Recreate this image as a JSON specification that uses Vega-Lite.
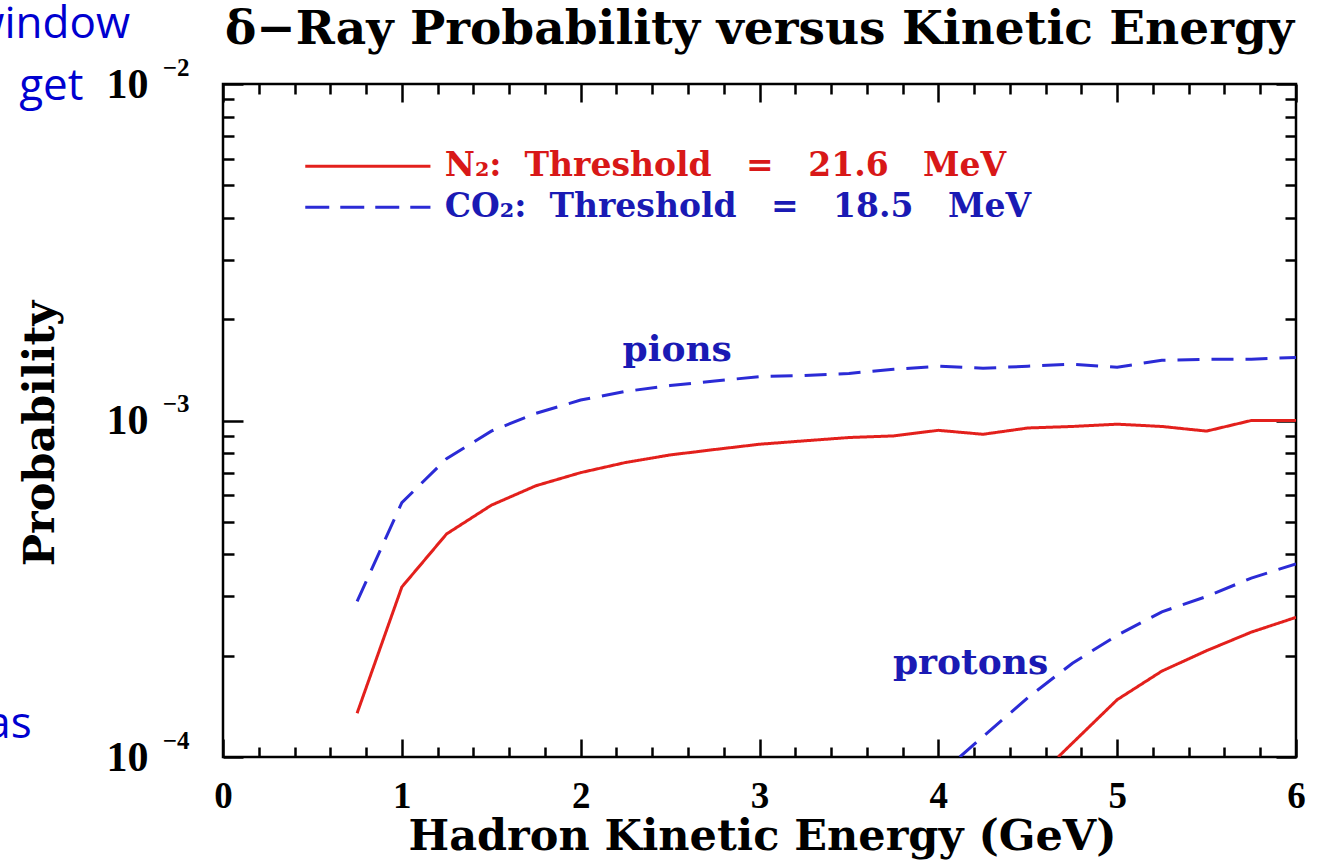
{
  "$schema": "https://vega.github.io/schema/vega-lite/v6.json",
  "width": 1073,
  "height": 673,
  "autosize": {"type": "none"},
  "padding": {"left": 223, "top": 84, "right": 23, "bottom": 108},
  "background": "white",
  "config": {
    "view": {"stroke": "black", "strokeWidth": 2.5},
    "axis": {"grid": false, "domain": false, "labelColor": "black", "titleColor": "black", "tickColor": "black", "tickWidth": 2.5}
  },
  "title": {
    "text": "δ−Ray Probability versus Kinetic Energy",
    "font": "DejaVu Serif",
    "fontSize": 47,
    "fontWeight": "bold",
    "anchor": "middle",
    "baseline": "alphabetic",
    "offset": 0,
    "dy": 88,
    "color": "black"
  },
  "datasets": {
    "curves": [
      {"curve": "N2 pions", "gas": "N2", "energy": 0.75, "prob": 0.000135},
      {"curve": "N2 pions", "gas": "N2", "energy": 1.0, "prob": 0.00032},
      {"curve": "N2 pions", "gas": "N2", "energy": 1.25, "prob": 0.00046},
      {"curve": "N2 pions", "gas": "N2", "energy": 1.5, "prob": 0.00056},
      {"curve": "N2 pions", "gas": "N2", "energy": 1.75, "prob": 0.00064},
      {"curve": "N2 pions", "gas": "N2", "energy": 2.0, "prob": 0.0007},
      {"curve": "N2 pions", "gas": "N2", "energy": 2.25, "prob": 0.00075},
      {"curve": "N2 pions", "gas": "N2", "energy": 2.5, "prob": 0.00079},
      {"curve": "N2 pions", "gas": "N2", "energy": 2.75, "prob": 0.00082},
      {"curve": "N2 pions", "gas": "N2", "energy": 3.0, "prob": 0.00085},
      {"curve": "N2 pions", "gas": "N2", "energy": 3.25, "prob": 0.00087},
      {"curve": "N2 pions", "gas": "N2", "energy": 3.5, "prob": 0.00089},
      {"curve": "N2 pions", "gas": "N2", "energy": 3.75, "prob": 0.0009},
      {"curve": "N2 pions", "gas": "N2", "energy": 4.0, "prob": 0.000935},
      {"curve": "N2 pions", "gas": "N2", "energy": 4.25, "prob": 0.00091},
      {"curve": "N2 pions", "gas": "N2", "energy": 4.5, "prob": 0.00095},
      {"curve": "N2 pions", "gas": "N2", "energy": 4.75, "prob": 0.00096},
      {"curve": "N2 pions", "gas": "N2", "energy": 5.0, "prob": 0.000975},
      {"curve": "N2 pions", "gas": "N2", "energy": 5.25, "prob": 0.00096},
      {"curve": "N2 pions", "gas": "N2", "energy": 5.5, "prob": 0.00093},
      {"curve": "N2 pions", "gas": "N2", "energy": 5.75, "prob": 0.001},
      {"curve": "N2 pions", "gas": "N2", "energy": 6.0, "prob": 0.001},
      {"curve": "CO2 pions", "gas": "CO2", "energy": 0.75, "prob": 0.00029},
      {"curve": "CO2 pions", "gas": "CO2", "energy": 1.0, "prob": 0.00057},
      {"curve": "CO2 pions", "gas": "CO2", "energy": 1.25, "prob": 0.00077},
      {"curve": "CO2 pions", "gas": "CO2", "energy": 1.5, "prob": 0.00093},
      {"curve": "CO2 pions", "gas": "CO2", "energy": 1.75, "prob": 0.00105},
      {"curve": "CO2 pions", "gas": "CO2", "energy": 2.0, "prob": 0.00115},
      {"curve": "CO2 pions", "gas": "CO2", "energy": 2.25, "prob": 0.00122},
      {"curve": "CO2 pions", "gas": "CO2", "energy": 2.5, "prob": 0.00127},
      {"curve": "CO2 pions", "gas": "CO2", "energy": 2.75, "prob": 0.00131},
      {"curve": "CO2 pions", "gas": "CO2", "energy": 3.0, "prob": 0.00135},
      {"curve": "CO2 pions", "gas": "CO2", "energy": 3.25, "prob": 0.00136},
      {"curve": "CO2 pions", "gas": "CO2", "energy": 3.5, "prob": 0.00138},
      {"curve": "CO2 pions", "gas": "CO2", "energy": 3.75, "prob": 0.00142},
      {"curve": "CO2 pions", "gas": "CO2", "energy": 4.0, "prob": 0.00145},
      {"curve": "CO2 pions", "gas": "CO2", "energy": 4.25, "prob": 0.00143},
      {"curve": "CO2 pions", "gas": "CO2", "energy": 4.5, "prob": 0.00145},
      {"curve": "CO2 pions", "gas": "CO2", "energy": 4.75, "prob": 0.00147},
      {"curve": "CO2 pions", "gas": "CO2", "energy": 5.0, "prob": 0.00144},
      {"curve": "CO2 pions", "gas": "CO2", "energy": 5.25, "prob": 0.00151},
      {"curve": "CO2 pions", "gas": "CO2", "energy": 5.5, "prob": 0.00152},
      {"curve": "CO2 pions", "gas": "CO2", "energy": 5.75, "prob": 0.00152},
      {"curve": "CO2 pions", "gas": "CO2", "energy": 6.0, "prob": 0.00154},
      {"curve": "CO2 protons", "gas": "CO2", "energy": 4.12, "prob": 0.0001},
      {"curve": "CO2 protons", "gas": "CO2", "energy": 4.25, "prob": 0.000115},
      {"curve": "CO2 protons", "gas": "CO2", "energy": 4.5, "prob": 0.00015},
      {"curve": "CO2 protons", "gas": "CO2", "energy": 4.75, "prob": 0.00019},
      {"curve": "CO2 protons", "gas": "CO2", "energy": 5.0, "prob": 0.00023},
      {"curve": "CO2 protons", "gas": "CO2", "energy": 5.25, "prob": 0.00027},
      {"curve": "CO2 protons", "gas": "CO2", "energy": 5.5, "prob": 0.0003},
      {"curve": "CO2 protons", "gas": "CO2", "energy": 5.75, "prob": 0.00034},
      {"curve": "CO2 protons", "gas": "CO2", "energy": 6.0, "prob": 0.000375},
      {"curve": "N2 protons", "gas": "N2", "energy": 4.67, "prob": 0.0001},
      {"curve": "N2 protons", "gas": "N2", "energy": 4.75, "prob": 0.00011},
      {"curve": "N2 protons", "gas": "N2", "energy": 5.0, "prob": 0.000148},
      {"curve": "N2 protons", "gas": "N2", "energy": 5.25, "prob": 0.00018},
      {"curve": "N2 protons", "gas": "N2", "energy": 5.5, "prob": 0.000207},
      {"curve": "N2 protons", "gas": "N2", "energy": 5.75, "prob": 0.000235},
      {"curve": "N2 protons", "gas": "N2", "energy": 6.0, "prob": 0.00026}
    ],
    "legendLines": [
      {"gas": "N2", "energy": 0.46, "prob": 0.0057},
      {"gas": "N2", "energy": 1.16, "prob": 0.0057},
      {"gas": "CO2", "energy": 0.46, "prob": 0.0043},
      {"gas": "CO2", "energy": 1.16, "prob": 0.0043}
    ],
    "legendTexts": [
      {"gas": "N2", "label": "N₂:\u00a0\u00a0Threshold\u00a0\u00a0\u00a0=\u00a0\u00a0\u00a021.6\u00a0\u00a0\u00a0MeV", "energy": 1.24, "prob": 0.0057},
      {"gas": "CO2", "label": "CO₂:\u00a0\u00a0Threshold\u00a0\u00a0\u00a0=\u00a0\u00a0\u00a018.5\u00a0\u00a0\u00a0MeV", "energy": 1.24, "prob": 0.0043}
    ],
    "curveLabels": [
      {"gas": "CO2", "label": "pions", "energy": 2.54, "prob": 0.00162},
      {"gas": "CO2", "label": "protons", "energy": 4.18, "prob": 0.00019}
    ],
    "fragments": [
      {"label": "window", "energy": -0.52, "prob": 0.0137},
      {"label": "get", "energy": -0.78, "prob": 0.00896},
      {"label": "as", "energy": -1.07, "prob": 0.000114}
    ]
  },
  "layer": [
    {
      "data": {"name": "curves"},
      "mark": {"type": "line", "clip": true, "strokeWidth": 3},
      "encoding": {
        "x": {
          "field": "energy", "type": "quantitative",
          "scale": {"domain": [0, 6], "nice": false, "zero": false},
          "axis": {
            "orient": "bottom",
            "values": [0,0.2,0.4,0.6,0.8,1,1.2,1.4,1.6,1.8,2,2.2,2.4,2.6,2.8,3,3.2,3.4,3.6,3.8,4,4.2,4.4,4.6,4.8,5,5.2,5.4,5.6,5.8,6],
            "labelExpr": "datum.value % 1 == 0 ? format(datum.value, 'd') : ''",
            "tickSize": {"condition": {"test": "datum.value % 1 == 0", "value": -18}, "value": -10},
            "labelFont": "Liberation Serif", "labelFontWeight": "bold", "labelFontSize": 37,
            "labelPadding": 39, "labelFlush": false, "labelOverlap": false, "labelBound": false,
            "title": "Hadron Kinetic Energy (GeV)",
            "titleFont": "DejaVu Serif", "titleFontWeight": "bold", "titleFontSize": 43,
            "titleX": 539, "titleY": 92, "titleBaseline": "alphabetic", "titleAnchor": "middle"
          }
        },
        "y": {
          "field": "prob", "type": "quantitative",
          "scale": {"type": "log", "domain": [0.0001, 0.01], "nice": false},
          "axis": {
            "orient": "left",
            "values": [0.0001,0.0002,0.0003,0.0004,0.0005,0.0006,0.0007,0.0008,0.0009,0.001,0.002,0.003,0.004,0.005,0.006,0.007,0.008,0.009,0.01],
            "labelExpr": "abs(log(datum.value)/LN10 - round(log(datum.value)/LN10)) < 0.000001 ? '10' : ''",
            "tickSize": {"condition": {"test": "abs(log(datum.value)/LN10 - round(log(datum.value)/LN10)) < 0.000001", "value": -20}, "value": -11},
            "labelFont": "Liberation Serif", "labelFontWeight": "bold", "labelFontSize": 42,
            "labelPadding": 95, "labelBaseline": "middle", "labelFlush": false, "labelOverlap": false, "labelBound": false,
            "title": "Probability",
            "titleFont": "DejaVu Serif", "titleFontWeight": "bold", "titleFontSize": 43,
            "titleX": -170, "titleY": 349, "titleAngle": -90, "titleBaseline": "alphabetic", "titleAnchor": "middle"
          }
        },
        "color": {"field": "gas", "type": "nominal", "scale": {"domain": ["N2", "CO2"], "range": ["#e3201c", "#2b2bd6"]}, "legend": null},
        "strokeDash": {"field": "gas", "type": "nominal", "scale": {"domain": ["N2", "CO2"], "range": [[1, 0], [22, 12]]}, "legend": null},
        "detail": {"field": "curve", "type": "nominal"}
      }
    },
    {
      "data": {"name": "legendLines"},
      "mark": {"type": "line", "strokeWidth": 3},
      "encoding": {
        "x": {
          "field": "energy", "type": "quantitative",
          "scale": {"domain": [0, 6], "nice": false, "zero": false},
          "axis": {
            "orient": "top",
            "values": [0,0.2,0.4,0.6,0.8,1,1.2,1.4,1.6,1.8,2,2.2,2.4,2.6,2.8,3,3.2,3.4,3.6,3.8,4,4.2,4.4,4.6,4.8,5,5.2,5.4,5.6,5.8,6],
            "labels": false, "title": null,
            "tickSize": {"condition": {"test": "datum.value % 1 == 0", "value": -18}, "value": -10}
          }
        },
        "y": {
          "field": "prob", "type": "quantitative",
          "scale": {"type": "log", "domain": [0.0001, 0.01], "nice": false},
          "axis": {
            "orient": "right",
            "values": [0.0001,0.0002,0.0003,0.0004,0.0005,0.0006,0.0007,0.0008,0.0009,0.001,0.002,0.003,0.004,0.005,0.006,0.007,0.008,0.009,0.01],
            "labels": false, "title": null,
            "tickSize": {"condition": {"test": "abs(log(datum.value)/LN10 - round(log(datum.value)/LN10)) < 0.000001", "value": -20}, "value": -11}
          }
        },
        "color": {"field": "gas", "type": "nominal", "scale": {"domain": ["N2", "CO2"], "range": ["#e3201c", "#2b2bd6"]}, "legend": null},
        "strokeDash": {"field": "gas", "type": "nominal", "scale": {"domain": ["N2", "CO2"], "range": [[1, 0], [24, 11]]}, "legend": null},
        "detail": {"field": "gas", "type": "nominal"}
      }
    },
    {
      "data": {"name": "legendTexts"},
      "mark": {"type": "text", "font": "DejaVu Serif", "fontWeight": "bold", "fontSize": 33, "align": "left", "baseline": "middle"},
      "encoding": {
        "x": {"field": "energy", "type": "quantitative", "scale": {"domain": [0, 6], "nice": false, "zero": false}, "axis": null},
        "y": {
          "field": "prob", "type": "quantitative",
          "scale": {"type": "log", "domain": [0.0001, 0.01], "nice": false},
          "axis": {
            "orient": "left",
            "values": [0.0001, 0.001, 0.01],
            "ticks": false, "title": null,
            "labelExpr": "'−' + format(-log(datum.value)/LN10, '.0f')",
            "labelFont": "Liberation Serif", "labelFontWeight": "bold", "labelFontSize": 25,
            "labelPadding": 34, "labelOffset": -17, "labelBaseline": "middle",
            "labelFlush": false, "labelOverlap": false, "labelBound": false
          }
        },
        "text": {"field": "label", "type": "nominal"},
        "color": {"field": "gas", "type": "nominal", "scale": {"domain": ["N2", "CO2"], "range": ["#d81818", "#1a1ab4"]}, "legend": null}
      }
    },
    {
      "data": {"name": "curveLabels"},
      "mark": {"type": "text", "font": "DejaVu Serif", "fontWeight": "bold", "fontSize": 36, "align": "center", "baseline": "middle"},
      "encoding": {
        "x": {"field": "energy", "type": "quantitative", "scale": {"domain": [0, 6], "nice": false, "zero": false}, "axis": null},
        "y": {"field": "prob", "type": "quantitative", "scale": {"type": "log", "domain": [0.0001, 0.01], "nice": false}, "axis": null},
        "text": {"field": "label", "type": "nominal"},
        "color": {"field": "gas", "type": "nominal", "scale": {"domain": ["N2", "CO2"], "range": ["#d81818", "#1a1ab4"]}, "legend": null}
      }
    },
    {
      "data": {"name": "fragments"},
      "mark": {"type": "text", "font": "Open Sans", "fontSize": 44, "align": "right", "baseline": "alphabetic", "color": "#0000d0"},
      "encoding": {
        "x": {"field": "energy", "type": "quantitative", "scale": {"domain": [0, 6], "nice": false, "zero": false}, "axis": null},
        "y": {"field": "prob", "type": "quantitative", "scale": {"type": "log", "domain": [0.0001, 0.01], "nice": false}, "axis": null},
        "text": {"field": "label", "type": "nominal"}
      }
    }
  ],
  "resolve": {"axis": {"x": "independent", "y": "independent"}, "scale": {"color": "independent", "strokeDash": "independent"}}
}
